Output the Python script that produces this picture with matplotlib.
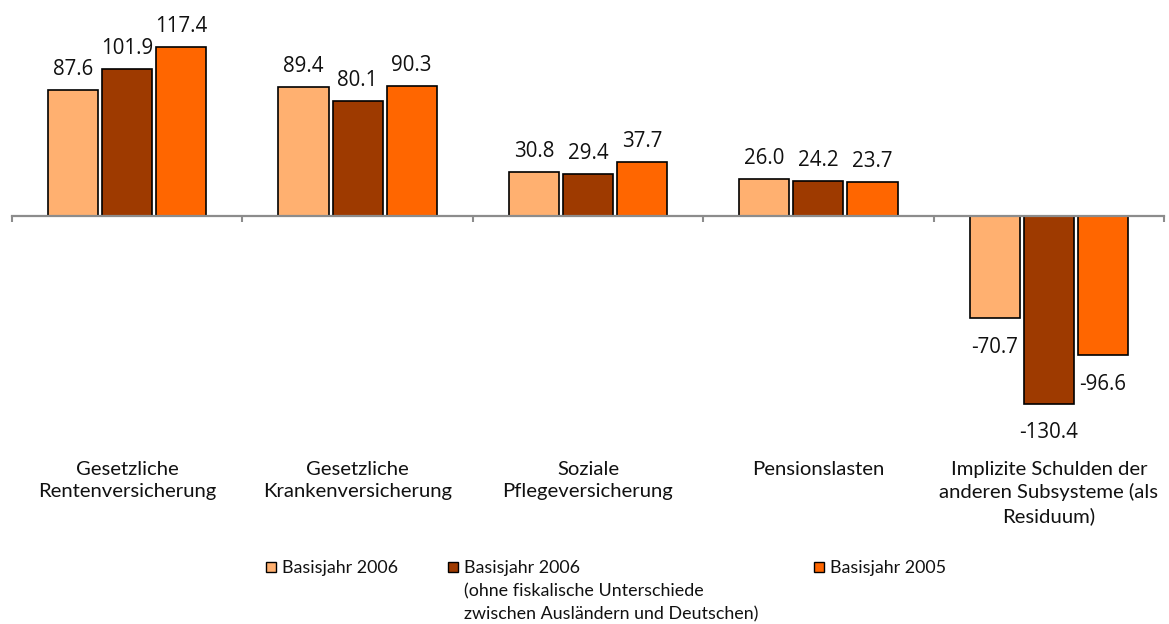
import matplotlib
matplotlib.use("Agg")
import matplotlib.pyplot as plt
from matplotlib.patches import Rectangle
import numpy as np

categories = ["Gesetzliche\nRentenversicherung",
              "Gesetzliche\nKrankenversicherung",
              "Soziale\nPflegeversicherung",
              "Pensionslasten",
              "Implizite Schulden der\nanderen Subsysteme (als\nResiduum)"]
series_names = ["Basisjahr 2006",
                "Basisjahr 2006\n(ohne fiskalische Unterschiede\nzwischen Ausländern und Deutschen)",
                "Basisjahr 2005"]
basis_2006 = [87.6, 89.4, 30.8, 26.0, -70.7]
basis_2006_ohne = [101.9, 80.1, 29.4, 24.2, -130.4]
basis_2005 = [117.4, 90.3, 37.7, 23.7, -96.6]
colors = ["#FFB070", "#9E3A00", "#FF6600"]

W, H = 1169, 624
fig = plt.figure(figsize=(W / 100, H / 100), dpi=100)
ax = fig.add_axes([12 / W, (H - 417.6) / H, 1152 / W, 403.2 / H])
ax.set_xlim(-0.5, 4.5)
ax.set_ylim(-140, 140)

x = np.arange(len(categories))
offsets = [-54 / 230, 0, 54 / 230]
width = 50 / 230
value_font = dict(family=["Open Sans", "DejaVu Sans"], size=14.8, color="#111111")
for vals, off, col in zip([basis_2006, basis_2006_ohne, basis_2005], offsets, colors):
    bars = ax.bar(x + off, vals, width=width, color=col, edgecolor="black", linewidth=1.2, zorder=3)
    for b, v in zip(bars, vals):
        cx = b.get_x() + b.get_width() / 2
        dy = 10.8 if v >= 0 else -25
        ax.annotate(f"{v:.1f}", (cx, v), xytext=(0, dy), textcoords="offset points",
                    ha="center", va="baseline", **value_font)

for s in ["top", "left", "right"]:
    ax.spines[s].set_visible(False)
ax.spines["bottom"].set_position(("data", 0))
ax.spines["bottom"].set_color("#8C8C8C")
ax.spines["bottom"].set_linewidth(1.6)
ax.spines["bottom"].set_zorder(4)
ax.set_yticks([])
ax.set_xticks(np.arange(-0.5, 5, 1.0))
ax.set_xticklabels([])
ax.tick_params(axis="x", direction="out", length=4, width=1.5, color="#8C8C8C")

label_font = dict(family=["Lato", "DejaVu Sans"], size=14.6, color="#111111")
for i, c in enumerate(categories):
    ax.annotate(c, (i, H - 461), xycoords=("data", "figure pixels"),
                ha="center", va="top", linespacing=1.36, **label_font)

legend_font = dict(family=["Lato", "DejaVu Sans"], size=12.9, color="#111111")
legend_x = [266, 448, 814]
legend_y = 567
for lx, name, col in zip(legend_x, series_names, colors):
    fig.patches.append(Rectangle(((lx) / W, (H - legend_y - 5) / H), 10 / W, 10 / H,
                                 transform=fig.transFigure, facecolor=col,
                                 edgecolor="black", linewidth=1.0))
    fig.text((lx + 16) / W, (H - legend_y + 7) / H, name, ha="left", va="top",
             linespacing=1.55, **legend_font)

fig.savefig("out.png", dpi=100)
